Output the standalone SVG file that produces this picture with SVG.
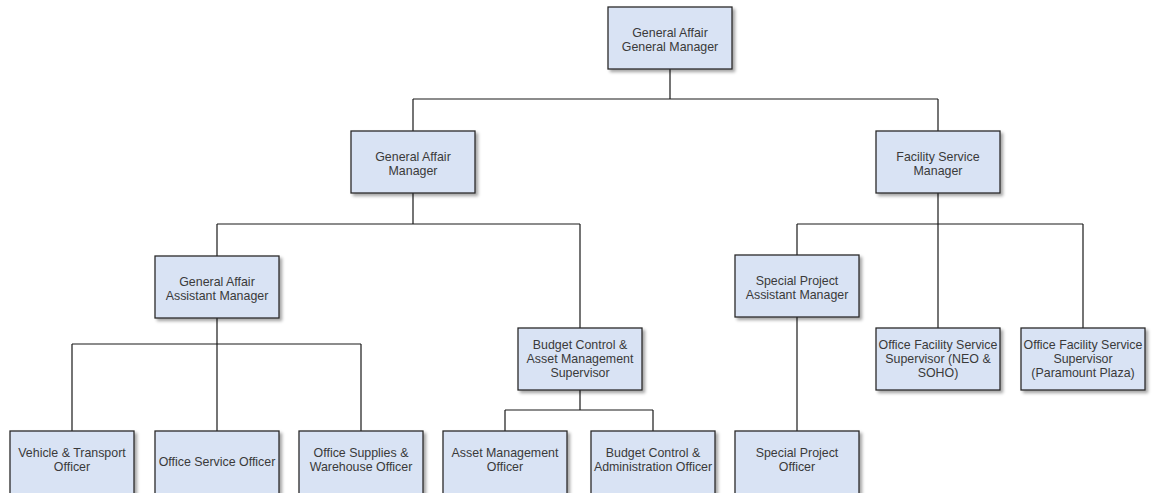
<svg xmlns="http://www.w3.org/2000/svg" width="1152" height="493" viewBox="0 0 1152 493">
<defs>
<filter id="sh" x="-10%" y="-10%" width="130%" height="140%">
<feDropShadow dx="2.5" dy="2.5" stdDeviation="1.5" flood-color="#000" flood-opacity="0.35"/>
</filter>
<style>
.box{fill:#d9e3f4;stroke:#2b2b2b;stroke-width:1.3;filter:url(#sh)}
.t{font-family:"Liberation Sans",Arial,sans-serif;font-size:12.4px;fill:#3a3a3a;text-anchor:middle}
.c{stroke:#1a1a1a;stroke-width:1.2;fill:none}
</style>
</defs>
<rect width="1152" height="493" fill="#fff"/>
<g id="connectors">
<path class="c" d="M670 69V99M413 99H938M413 99V131M938 99V131"/>
<path class="c" d="M413 193V224M217 224H580M217 224V256M580 224V328"/>
<path class="c" d="M217 317V344M72 344H361M72 344V431M217 344V431M361 344V431"/>
<path class="c" d="M580 390V410M505 410H653M505 410V431M653 410V431"/>
<path class="c" d="M938 193V224M797 224H1083M797 224V255M938 224V328M1083 224V328"/>
<path class="c" d="M797 317V431"/>
</g>
<g id="n-gagm"><rect class="box" x="608" y="7" width="124" height="62"/><text class="t" x="670" y="37">General Affair</text><text class="t" x="670" y="51">General Manager</text></g>
<g id="n-gam"><rect class="box" x="351" y="131" width="124" height="62"/><text class="t" x="413" y="161">General Affair</text><text class="t" x="413" y="175">Manager</text></g>
<g id="n-fsm"><rect class="box" x="876" y="131" width="124" height="62"/><text class="t" x="938" y="161">Facility Service</text><text class="t" x="938" y="175">Manager</text></g>
<g id="n-gaam"><rect class="box" x="155" y="256" width="124" height="62"/><text class="t" x="217" y="286">General Affair</text><text class="t" x="217" y="300">Assistant Manager</text></g>
<g id="n-bcam"><rect class="box" x="518" y="328" width="124" height="62"/><text class="t" x="580" y="349">Budget Control &amp;</text><text class="t" x="580" y="363">Asset Management</text><text class="t" x="580" y="377">Supervisor</text></g>
<g id="n-spam"><rect class="box" x="735" y="255" width="124" height="62"/><text class="t" x="797" y="285">Special Project</text><text class="t" x="797" y="299">Assistant Manager</text></g>
<g id="n-neo"><rect class="box" x="876" y="328" width="124" height="62"/><text class="t" x="938" y="349">Office Facility Service</text><text class="t" x="938" y="363">Supervisor (NEO &amp;</text><text class="t" x="938" y="377">SOHO)</text></g>
<g id="n-para"><rect class="box" x="1021" y="328" width="124" height="62"/><text class="t" x="1083" y="349">Office Facility Service</text><text class="t" x="1083" y="363">Supervisor</text><text class="t" x="1083" y="377">(Paramount Plaza)</text></g>
<g id="n-vto"><rect class="box" x="10" y="431" width="124" height="64"/><text class="t" x="72" y="457">Vehicle &amp; Transport</text><text class="t" x="72" y="471">Officer</text></g>
<g id="n-oso"><rect class="box" x="155" y="431" width="124" height="64"/><text class="t" x="217" y="466">Office Service Officer</text></g>
<g id="n-osw"><rect class="box" x="299" y="431" width="124" height="64"/><text class="t" x="361" y="457">Office Supplies &amp;</text><text class="t" x="361" y="471">Warehouse Officer</text></g>
<g id="n-amo"><rect class="box" x="443" y="431" width="124" height="64"/><text class="t" x="505" y="457">Asset Management</text><text class="t" x="505" y="471">Officer</text></g>
<g id="n-bcao"><rect class="box" x="591" y="431" width="124" height="64"/><text class="t" x="653" y="457">Budget Control &amp;</text><text class="t" x="653" y="471">Administration Officer</text></g>
<g id="n-spo"><rect class="box" x="735" y="431" width="124" height="64"/><text class="t" x="797" y="457">Special Project</text><text class="t" x="797" y="471">Officer</text></g>
</svg>
